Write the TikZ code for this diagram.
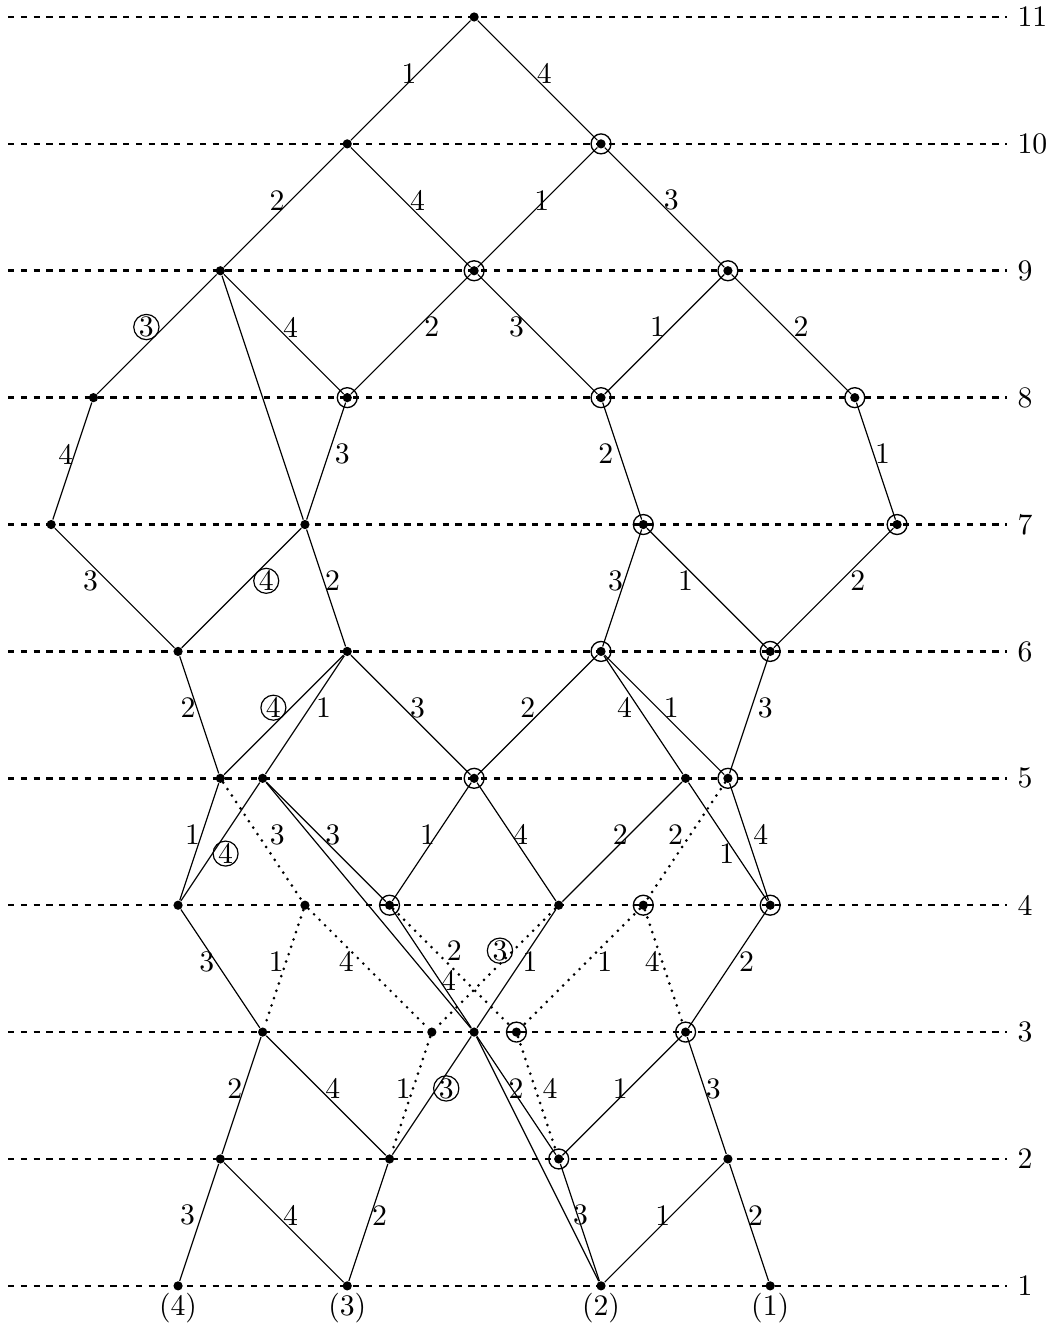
\documentclass[tikz,border=0pt]{standalone}
\usepackage{tikz}
\usetikzlibrary{positioning}

\begin{document}
\begin{tikzpicture}[x=0.5cm, y=1.5cm,
    dot/.style={circle, fill, inner sep=0pt, minimum size=3.1pt},
    ring/.style={circle, draw, solid, line width=0.45pt, inner sep=0pt, minimum size=6.7pt},
    odot/.style={dot, label={[ring]center:{}}},
    hop/.style={line width=1pt, line cap=round, dash pattern=on 0pt off 2.6pt},
    guide/.style={line width=0.85pt, dash pattern=on 2.1pt off 2.2pt},
    lbl/.style={inner sep=2pt, pos=0.44},
    tight/.style={inner sep=0.3pt},
    cnum/.style={lbl, circle, draw, solid, line width=0.4pt, inner sep=0pt}]
    \useasboundingbox (-11.21,0.668) rectangle (13.72,11.134);

    % Levels
    \coordinate (s11) at (-11.02,11); \node[anchor=west] (t11) at (12.6,11) {11};
    \coordinate (s10) at (-11.02,10); \node[anchor=west] (t10) at (12.6,10) {10};
    \coordinate (s9) at (-11.02,9); \node[anchor=west] (t9) at (12.6,9) {9};
    \coordinate (s8) at (-11.02,8); \node[anchor=west] (t8) at (12.6,8) {8};
    \coordinate (s7) at (-11.02,7); \node[anchor=west] (t7) at (12.6,7) {7};
    \coordinate (s6) at (-11.02,6); \node[anchor=west] (t6) at (12.6,6) {6};
    \coordinate (s5) at (-11.02,5); \node[anchor=west] (t5) at (12.6,5) {5};
    \coordinate (s4) at (-11.02,4); \node[anchor=west] (t4) at (12.6,4) {4};
    \coordinate (s3) at (-11.02,3); \node[anchor=west] (t3) at (12.6,3) {3};
    \coordinate (s2) at (-11.02,2); \node[anchor=west] (t2) at (12.6,2) {2};
    \coordinate (s1) at (-11.02,1); \node[anchor=west] (t1) at (12.6,1) {1};
    \draw[guide] (s11) -- (t11);
    \draw[guide] (s10) -- (t10);
    \draw[guide] (s9) -- (t9);
    \draw[guide] (s8) -- (t8);
    \draw[guide] (s7) -- (t7);
    \draw[guide] (s6) -- (t6);
    \draw[guide] (s5) -- (t5);
    \draw[guide] (s4) -- (t4);
    \draw[guide] (s3) -- (t3);
    \draw[guide] (s2) -- (t2);
    \draw[guide] (s1) -- (t1);

    % Vertices
    \node[dot] (a11) at (0,11) {};
    \node[dot] (a10) at (-3,10) {};
    \node[odot] (b10) at (3,10) {};
    \node[dot] (a9) at (-6,9) {};
    \node[odot] (b9) at (0,9) {};
    \node[odot] (c9) at (6,9) {};
    \node[dot] (a8) at (-9,8) {};
    \node[odot] (b8) at (-3,8) {};
    \node[odot] (c8) at (3,8) {};
    \node[odot] (d8) at (9,8) {};
    \node[dot] (a7) at (-10,7) {};
    \node[dot] (b7) at (-4,7) {};
    \node[odot] (c7) at (4,7) {};
    \node[odot] (d7) at (10,7) {};
    \node[dot] (a6) at (-7,6) {};
    \node[dot] (b6) at (-3,6) {};
    \node[odot] (c6) at (3,6) {};
    \node[odot] (d6) at (7,6) {};
    \node[dot] (a5) at (-6,5) {};
    \node[dot] (b5) at (-5,5) {};
    \node[odot] (c5) at (0,5) {};
    \node[dot] (d5) at (5,5) {};
    \node[odot] (e5) at (6,5) {};
    \node[dot] (a4) at (-7,4) {};
    \node[dot] (b4) at (-4,4) {};
    \node[odot] (c4) at (-2,4) {};
    \node[dot] (d4) at (2,4) {};
    \node[odot] (e4) at (4,4) {};
    \node[odot] (f4) at (7,4) {};
    \node[dot] (a3) at (-5,3) {};
    \node[dot] (b3) at (-1,3) {};
    \node[dot] (c3) at (0,3) {};
    \node[odot] (d3) at (1,3) {};
    \node[odot] (e3) at (5,3) {};
    \node[dot] (a2) at (-6,2) {};
    \node[dot] (b2) at (-2,2) {};
    \node[odot] (c2) at (2,2) {};
    \node[dot] (d2) at (6,2) {};
    \node[dot] (a1) at (-7,1) {};
    \node[dot] (b1) at (-3,1) {};
    \node[dot] (c1) at (3,1) {};
    \node[dot] (d1) at (7,1) {};

    % Sinks
    \node[below=0pt of a1, inner sep=0.5pt] (q4) {(4)};
    \node[below=0pt of b1, inner sep=0.5pt] (q3) {(3)};
    \node[below=0pt of c1, inner sep=0.5pt] (q2) {(2)};
    \node[below=0pt of d1, inner sep=0.5pt] (q1) {(1)};

    % Edges, upper part
    \draw (a11) -- (a10) node[lbl, tight, left] {1};
    \draw (a11) -- (b10) node[lbl, right] {4};
    \draw (a10) -- (a9) node[lbl, left] {2};
    \draw (a10) -- (b9) node[lbl, right] {4};
    \draw (b10) -- (b9) node[lbl, xshift=-1pt] {1};
    \draw (b10) -- (c9) node[lbl, right] {3};
    \draw (a9) -- (a8) node[cnum, left=1.5pt] {3};
    \draw (a9) -- (b8) node[lbl, right] {4};
    \draw (b9) -- (b8) node[lbl, right] {2};
    \draw (b9) -- (c8) node[lbl, left] {3};
    \draw (c9) -- (c8) node[lbl, left] {1};
    \draw (c9) -- (d8) node[lbl, right=1pt] {2};
    \draw (a9) -- (b7);
    \draw (a8) -- (a7) node[lbl, tight, left] {4};
    \draw (b8) -- (b7) node[lbl, right] {3};
    \draw (c8) -- (c7) node[lbl, left] {2};
    \draw (d8) -- (d7) node[lbl, tight, right] {1};
    \draw (a7) -- (a6) node[lbl, left=1pt] {3};
    \draw (b7) -- (a6) node[cnum, right=1.5pt] {4};
    \draw (b7) -- (b6) node[lbl, tight, right] {2};
    \draw (c7) -- (c6) node[lbl, tight, left] {3};
    \draw (c7) -- (d6) node[lbl, left] {1};
    \draw (d7) -- (d6) node[lbl, right=1pt] {2};
    \draw (a6) -- (a5) node[lbl, tight, left] {2};
    \draw (b6) -- (a5) node[cnum, left=1.5pt] {4};
    \draw (b6) -- (b5) node[lbl, right] {1};
    \draw (b6) -- (c5) node[lbl, right] {3};
    \draw (c6) -- (c5) node[lbl, left=1pt] {2};
    \draw (c6) -- (d5) node[lbl, left] {4};
    \draw (c6) -- (e5) node[lbl, right] {1};
    \draw (d6) -- (e5) node[lbl, right] {3};

    % Edges, lower part
    \draw (a5) -- (a4) node[lbl, tight, left] {1};
    \draw (b5) -- (a4) node[cnum, pos=.6, right] {4};
    \draw[hop] (a5) -- (b4) node[lbl, right=1.5pt] {3};
    \draw (b5) -- (c4) node[lbl, right] {3};
    \draw (b5) -- (c3);
    \draw (c5) -- (c4) node[lbl, tight, left] {1};
    \draw (c5) -- (d4) node[lbl, tight, right] {4};
    \draw (d5) -- (d4) node[lbl, tight, left] {2};
    \draw[hop] (e5) -- (e4) node[lbl, left] {2};
    \draw (d5) -- (f4) node[lbl, tight, pos=.6, left] {1};
    \draw (e5) -- (f4) node[lbl, right] {4};
    \draw (a4) -- (a3) node[lbl, tight, left] {3};
    \draw[hop] (b4) -- (a3) node[lbl, tight, left] {1};
    \draw[hop] (b4) -- (b3) node[lbl, left] {4};
    \draw[hop] (c4) -- (d3) node[lbl, pos=.35, right=1.5pt] {2};
    \draw (c4) -- (c3) node[lbl, tight, pos=.6, right] {4};
    \draw[hop] (d4) -- (b3) node[cnum, pos=.35, left] {3};
    \draw (d4) -- (c3) node[lbl, tight, right] {1};
    \draw[hop] (e4) -- (d3) node[lbl, right=1pt] {1};
    \draw[hop] (e4) -- (e3) node[lbl, tight, left] {4};
    \draw (f4) -- (e3) node[lbl, right] {2};
    \draw (a3) -- (a2) node[lbl, tight, left] {2};
    \draw (a3) -- (b2) node[lbl, right] {4};
    \draw[hop] (b3) -- (b2) node[lbl, tight, left] {1};
    \draw (c3) -- (b2) node[cnum, right=-1.2pt] {3};
    \draw (c3) -- (c2) node[lbl, xshift=1.5pt] {2};
    \draw (c3) -- (c1);
    \draw[hop] (d3) -- (c2) node[lbl, right] {4};
    \draw (e3) -- (c2) node[lbl, tight, left] {1};
    \draw (e3) -- (d2) node[lbl, tight, right] {3};
    \draw (a2) -- (a1) node[lbl, left] {3};
    \draw (a2) -- (b1) node[lbl, right] {4};
    \draw (b2) -- (b1) node[lbl, tight, right] {2};
    \draw (c2) -- (c1) node[lbl, xshift=1pt] {3};
    \draw (d2) -- (c1) node[lbl, tight, left] {1};
    \draw (d2) -- (d1) node[lbl, tight, right] {2};
\end{tikzpicture}
\end{document}
